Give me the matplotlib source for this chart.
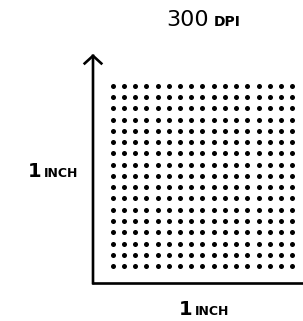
import matplotlib
matplotlib.use("Agg")
import matplotlib.pyplot as plt

# one square inch sampled at 300 dpi, drawn as a 17 x 17 grid of dots
dot_cols = [0, 1, 2, 3, 4, 5, 6, 7, 8, 9, 10, 11, 12, 13, 14, 15, 16]
dot_rows = [0, 1, 2, 3, 4, 5, 6, 7, 8, 9, 10, 11, 12, 13, 14, 15, 16]

title_big = "300"
title_small = "DPI"
label_big = "1"
label_small = "INCH"

W, H = 303, 321


def px(x, y):
    # pixel position (from top-left) -> figure fraction
    return x / W, 1 - y / H


def main():
    fig = plt.figure(figsize=(W / 100, H / 100), dpi=100)
    ax = fig.add_axes([93 / W, 38 / H, (W - 93) / W, (283 - 54) / H])

    xs = [c for r in dot_rows for c in dot_cols]
    ys = [r for r in dot_rows for c in dot_cols]
    ax.scatter(xs, ys, s=13, color="black", linewidths=0)

    ax.set_xlim(-1.75, 16.95)
    ax.set_ylim(-1.51, 18.84)

    for side in ["top", "right", "left"]:
        ax.spines[side].set_visible(False)
    ax.spines["bottom"].set_linewidth(1.9)
    ax.spines["bottom"].set_capstyle("projecting")
    ax.set_xticks([])
    ax.set_yticks([])

    # vertical axis with an open arrow head
    ax.annotate("", xy=(0, 1), xytext=(0, 0), xycoords="axes fraction",
                textcoords="axes fraction",
                arrowprops=dict(arrowstyle="->,head_length=0.55,head_width=0.6",
                                lw=1.9, color="black", shrinkA=0, shrinkB=0,
                                capstyle="projecting"))

    # title, small-caps look
    fig.text(*px(166, 26), title_big, fontsize=16, ha="left", va="baseline")
    fig.text(*px(214, 26), title_small, fontsize=10, ha="left", va="baseline",
             fontweight="bold")

    # y label
    fig.text(*px(28, 177), label_big, fontsize=14, ha="left", va="baseline",
             fontweight="bold")
    fig.text(*px(44, 177), label_small, fontsize=9, ha="left", va="baseline",
             fontweight="bold")

    # x label
    fig.text(*px(179, 315), label_big, fontsize=14, ha="left", va="baseline",
             fontweight="bold")
    fig.text(*px(195, 315), label_small, fontsize=9, ha="left", va="baseline",
             fontweight="bold")

    fig.savefig("out.png", dpi=100)


if __name__ == '__main__':
    main()
